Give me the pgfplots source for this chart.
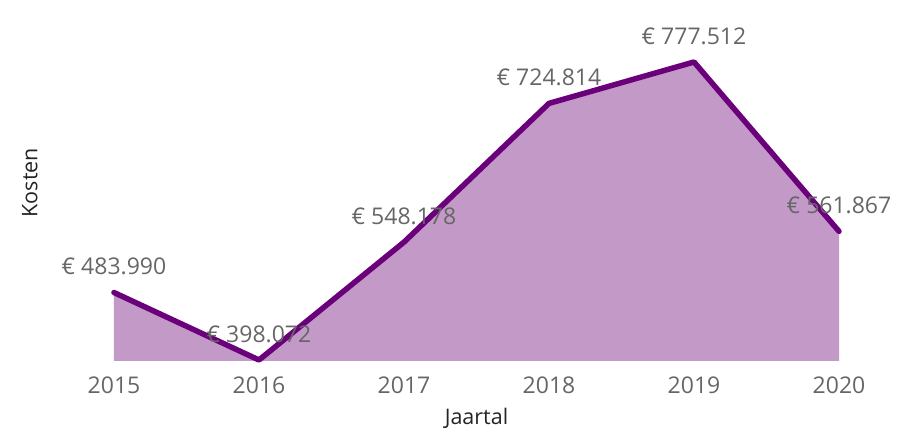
\documentclass[border=0pt]{standalone}
\usepackage{pgfplots}
\pgfplotsset{compat=1.18}
\usepackage{pgfplotstable}
\usepackage{fontspec}
\setmainfont{Open Sans}
\definecolor{lineC}{HTML}{6B007B}
\definecolor{areaC}{HTML}{C399C8}
\definecolor{lblC}{HTML}{666666}
\definecolor{titleC}{HTML}{252423}

\pgfplotstableread{
x y lab
2015 483990 483.990
2016 398072 398.072
2017 548178 548.178
2018 724814 724.814
2019 777512 777.512
2020 561867 561.867
}\costs

\pgfplotstableread{
x y
2015 396800
2015 483990
2016 398072
2017 548178
2018 724814
2019 777512
2020 561867
2020 396800
}\area

\begin{document}
\begin{tikzpicture}
\path[use as bounding box] (0,0) rectangle (908pt,433pt);
\begin{axis}[
  at={(114pt,72pt)}, anchor=south west,
  scale only axis, width=725pt, height=341pt,
  xmin=2015, xmax=2020, ymin=396800, ymax=831000,
  clip=false,
  axis line style={draw=none},
  major tick length=0pt,
  ytick=\empty,
  xtick={2015,2016,2017,2018,2019,2020},
  xticklabels={2015,2016,2017,2018,2019,2020},
  xticklabel style={font=\fontsize{23}{27}\selectfont, text=lblC, inner sep=0pt, yshift=-15.7pt},
  xlabel={Jaartal}, ylabel={Kosten},
  xlabel style={at={(axis description cs:0.5,0)}, anchor=base, yshift=-64pt, font=\fontsize{21.5}{25}\selectfont, text=titleC, inner sep=0pt},
  ylabel style={at={(axis description cs:-0.1058,0.523)}, anchor=base, font=\fontsize{21.5}{25}\selectfont, text=titleC, inner sep=0pt},
  /pgf/number format/assume math mode=true,
]
\addplot[fill=areaC, draw=none] table {\area};
\addplot[lineC, line width=5.5pt, line cap=round, line join=round,
  point meta=explicit symbolic,
  nodes near coords={€ \pgfplotspointmeta},
  nodes near coords style={font=\fontsize{23}{27}\selectfont, text=lblC, anchor=center, yshift=26pt},
] table[meta=lab] {\costs};
\end{axis}
\end{tikzpicture}
\end{document}
